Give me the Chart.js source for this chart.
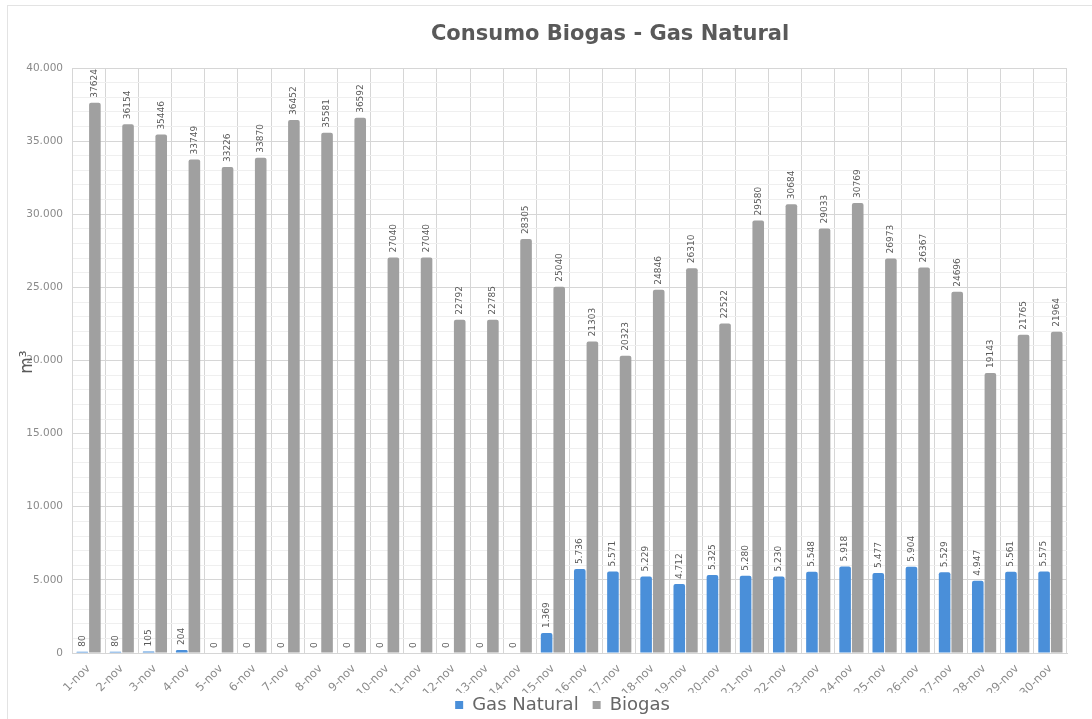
<!DOCTYPE html>
<html>
<head>
<meta charset="utf-8">
<script src="https://cdn.jsdelivr.net/npm/chart.js@4.4.1/dist/chart.umd.min.js"></script>
<style>
  html, body { margin: 0; padding: 0; background: #fff; }
  #wrap { position: relative; width: 1092px; height: 719px; }
  #frame { position: absolute; left: 7px; top: 5px; right: 0; bottom: 0; border-left: 1px solid #e3e3e3; border-top: 1px solid #e3e3e3; }
  canvas { position: absolute; left: 0; top: 0; }
</style>
</head>
<body>
<div id="wrap">
  <div id="frame"></div>
  <canvas id="chart" width="1092" height="719"></canvas>
</div>
<script>
// datos del gráfico
const dias = ['1-nov','2-nov','3-nov','4-nov','5-nov','6-nov','7-nov','8-nov','9-nov','10-nov',
  '11-nov','12-nov','13-nov','14-nov','15-nov','16-nov','17-nov','18-nov','19-nov','20-nov',
  '21-nov','22-nov','23-nov','24-nov','25-nov','26-nov','27-nov','28-nov','29-nov','30-nov'];
const gasNatural = [80, 80, 105, 204, 0, 0, 0, 0, 0, 0, 0, 0, 0, 0, 1369,
  5736, 5571, 5229, 4712, 5325, 5280, 5230, 5548, 5918, 5477, 5904, 5529, 4947, 5561, 5575];
const biogas = [37624, 36154, 35446, 33749, 33226, 33870, 36452, 35581, 36592, 27040,
  27040, 22792, 22785, 28305, 25040, 21303, 20323, 24846, 26310, 22522,
  29580, 30684, 29033, 30769, 26973, 26367, 24696, 19143, 21765, 21964];
const yTicks = [0, 5000, 10000, 15000, 20000, 25000, 30000, 35000, 40000];

const miles = v => String(v).replace(/\B(?=(\d{3})+(?!\d))/g, '.');
const FONT = '"DejaVu Sans", sans-serif';

// titulo, unidad del eje y etiquetas de valores
const extras = {
  id: 'extras',
  afterLayout(chart) {
    // mover la leyenda a su sitio (como en el original)
    const lg = chart.legend;
    const dx = 29, dy = 703 - (lg.top + lg.height / 2);
    lg.left += dx; lg.right += dx;
    lg.top += dy; lg.bottom += dy;
  },
  afterDatasetsDraw(chart) {
    const ctx = chart.ctx;
    ctx.save();
    ctx.fillStyle = '#595959';
    ctx.font = '9px ' + FONT;
    ctx.textAlign = 'left';
    ctx.textBaseline = 'middle';
    chart.data.datasets.forEach((ds, i) => {
      chart.getDatasetMeta(i).data.forEach((bar, j) => {
        const v = ds.data[j];
        const txt = i === 0 ? miles(v) : String(v);
        ctx.save();
        ctx.translate(bar.x, bar.y - 5);
        ctx.rotate(-Math.PI / 2);
        ctx.fillText(txt, 0, 0);
        ctx.restore();
      });
    });
    ctx.restore();
  },
  afterDraw(chart) {
    const ctx = chart.ctx;
    ctx.save();
    ctx.fillStyle = '#595959';
    ctx.font = 'bold 21px ' + FONT;
    ctx.textAlign = 'center';
    ctx.textBaseline = 'middle';
    ctx.fillText('Consumo Biogas - Gas Natural', 610, 35);
    ctx.translate(28, 362);
    ctx.rotate(-Math.PI / 2);
    ctx.font = '17px ' + FONT;
    ctx.fillText('m³', 0, 0);
    ctx.restore();
  }
};

new Chart(document.getElementById('chart'), {
  type: 'bar',
  data: {
    labels: dias,
    datasets: [
      { label: 'Gas Natural', data: gasNatural, backgroundColor: '#4a8fd9', borderRadius: 2, borderSkipped: 'bottom' },
      { label: 'Biogas', data: biogas, backgroundColor: '#a0a0a0', borderRadius: 2, borderSkipped: 'bottom' }
    ]
  },
  options: {
    responsive: false,
    animation: false,
    layout: { padding: { left: 0, right: 25, top: 68, bottom: -16 } },
    datasets: { bar: { categoryPercentage: 0.76, barPercentage: 0.92 } },
    scales: {
      x: {
        afterFit(scale) { scale.height = 40; },
        grid: { color: '#d6d6d6', offset: true, drawTicks: false },
        border: { color: '#d6d6d6' },
        ticks: { color: '#8a8a8a', font: { size: 11.5, family: FONT }, maxRotation: 45, minRotation: 45, padding: 9 }
      },
      y: {
        min: 0, max: 40000,
        afterFit(scale) { scale.width = 72; },
        afterBuildTicks(scale) {
          const t = [];
          for (let v = 0; v <= 40000; v += 1000) t.push({ value: v });
          scale.ticks = t;
        },
        grid: {
          drawTicks: false,
          color: c => yTicks.includes(c.tick.value) ? '#d6d6d6' : '#efefef'
        },
        border: { color: '#d6d6d6' },
        ticks: {
          autoSkip: false,
          color: '#8a8a8a', font: { size: 10.5, family: FONT }, padding: 9,
          callback: v => yTicks.includes(v) ? miles(v) : ''
        }
      }
    },
    plugins: {
      legend: {
        position: 'bottom',
        labels: { color: '#666', font: { size: 18, family: FONT }, boxWidth: 8, boxHeight: 8, padding: 14 }
      },
      tooltip: { enabled: false },
      title: { display: false }
    }
  },
  plugins: [extras]
});
</script>
</body>
</html>
